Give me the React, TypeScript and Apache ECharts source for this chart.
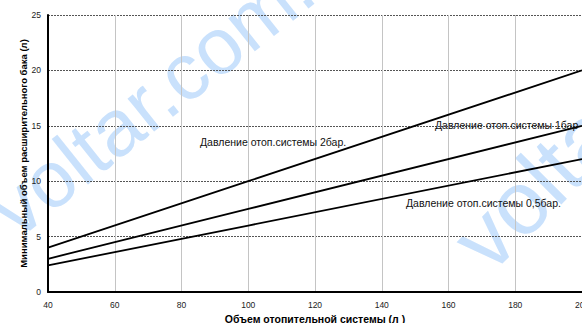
import React, { useEffect, useRef } from "react";
import * as echarts from "echarts";

const volumes = [40, 100, 200];
const bar2 = [4.0, 10.0, 20.0];
const bar1 = [3.0, 7.5, 15.0];
const bar05 = [2.4, 6.0, 12.0];
const seriesNames = ["Давление отоп.системы 2бар.", "Давление отоп.системы 1бар", "Давление отоп.системы 0,5бар."];
const xName = "Объем отопительной системы (л )";
const yName = "Минимальный объем расширительного бака (л)";
const watermark = "voltar.com.ua";

export default function App() {
  const ref = useRef<HTMLDivElement>(null);
  useEffect(() => {
    if (!ref.current) return;
    const chart = echarts.init(ref.current, null, { renderer: "svg" });
    const font = "Liberation Sans, Arial, sans-serif";
    const mk = (vals: number[], name: string) => ({
      type: "line",
      name,
      data: volumes.map((v, i) => [v, vals[i]]),
      symbol: "none",
      lineStyle: { color: "#000", width: 1.8 },
      z: 3,
    });
    const wmColor = "#c9e1fc";
    chart.setOption({
      animation: false,
      backgroundColor: "#fff",
      textStyle: { fontFamily: font },
      grid: { left: 48, top: 15, right: 0, bottom: 31, outerBoundsMode: "none", containLabel: false },
      xAxis: {
        type: "value",
        min: 40,
        max: 200,
        interval: 20,
        name: xName,
        nameLocation: "middle",
        nameGap: 21,
        nameMoveOverlap: false,
        nameTextStyle: { fontSize: 10.5, fontWeight: "bold", color: "#000", fontFamily: font },
        axisLine: { lineStyle: { color: "#000", width: 2 } },
        axisTick: { show: false },
        axisLabel: { fontSize: 8.5, color: "#222", margin: 8, fontFamily: font },
        splitLine: { show: true, lineStyle: { color: "#c4c4c4", width: 1 } },
      },
      yAxis: {
        type: "value",
        min: 0,
        max: 25,
        interval: 5,
        name: yName,
        nameLocation: "middle",
        nameGap: 20,
        nameMoveOverlap: false,
        nameRotate: 90,
        nameTextStyle: { fontSize: 9.5, fontWeight: "bold", color: "#000", fontFamily: font },
        axisLine: { show: true, lineStyle: { color: "#000", width: 2 } },
        axisTick: { show: false },
        axisLabel: { fontSize: 8.5, color: "#222", margin: 7, fontFamily: font },
        splitLine: { show: true, lineStyle: { color: "#555", width: 1, type: [2, 1] } },
      },
      graphic: [
        {
          type: "text",
          x: 0.5,
          y: 219,
          rotation: (38.6 * Math.PI) / 180,
          z: -10,
          silent: true,
          style: { text: watermark, fontSize: 80, fill: wmColor, fontFamily: font, verticalAlign: "middle", align: "left" },
        },
        {
          type: "text",
          x: 468,
          y: 254,
          rotation: (45 * Math.PI) / 180,
          z: -10,
          silent: true,
          style: { text: watermark, fontSize: 90, fill: wmColor, fontFamily: font, verticalAlign: "middle", align: "left" },
        },
        {
          type: "text",
          x: 200,
          y: 142,
          z: 10,
          style: { text: seriesNames[0], fontSize: 10.5, fill: "#111", fontFamily: font, verticalAlign: "middle" },
        },
        {
          type: "text",
          x: 435,
          y: 124.5,
          z: 10,
          style: { text: seriesNames[1], fontSize: 10.5, fill: "#111", fontFamily: font, verticalAlign: "middle" },
        },
        {
          type: "text",
          x: 406,
          y: 202.5,
          z: 10,
          style: { text: seriesNames[2], fontSize: 10.5, fill: "#111", fontFamily: font, verticalAlign: "middle" },
        },
      ],
      series: [mk(bar2, seriesNames[0]), mk(bar1, seriesNames[1]), mk(bar05, seriesNames[2])],
    });
    return () => chart.dispose();
  }, []);
  return <div ref={ref} style={{ position: "fixed", left: 0, top: 0, width: 582, height: 323 }} />;
}
